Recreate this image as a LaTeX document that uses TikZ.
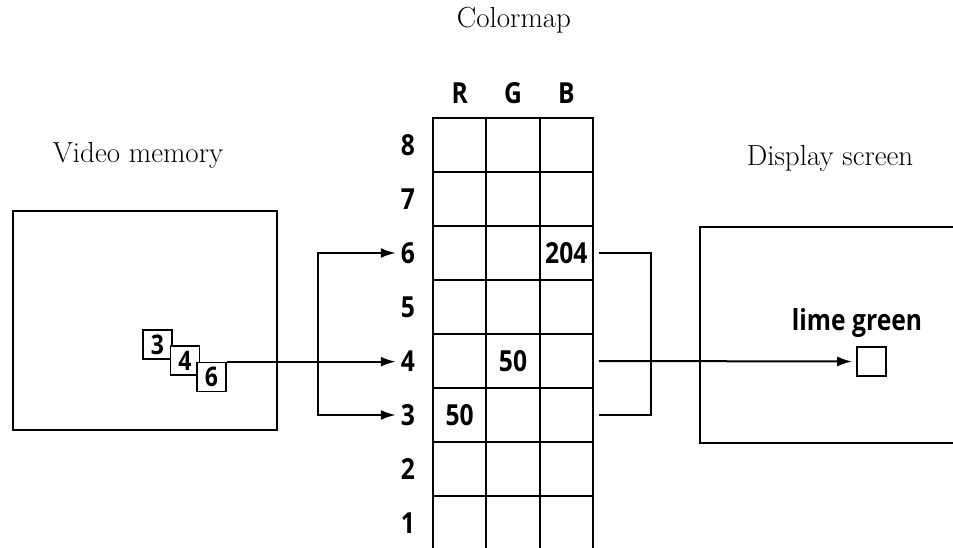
\documentclass[tikz,border=0pt]{standalone}
\usepackage{fontspec}
\usetikzlibrary{arrows.meta,calc}
\newfontfamily\labfont[FakeStretch=0.85]{Open Sans}
\begin{document}
\begin{tikzpicture}[x=1pt,y=-1pt,
  ln/.style={line width=2pt},
  arr/.style={line width=2pt,-{Latex[length=15pt,width=10pt]}},
  ttl/.style={font=\fontsize{29}{32}\selectfont, anchor=base, inner sep=0},
  lab/.style={font=\labfont\bfseries\fontsize{29}{32}\selectfont, inner sep=0},
  cell/.style={draw, line width=2pt, minimum width=53.33pt, minimum height=54pt, inner sep=0},
  smallbox/.style={draw, fill=white, line width=1.7pt, minimum width=29pt, minimum height=29pt, inner sep=0,
     font=\labfont\bfseries\fontsize{27}{30}\selectfont},
  bigbox/.style={draw, line width=2pt, anchor=north west, inner sep=0}]
\useasboundingbox (0,0) rectangle (953,548);

% titles
\node[ttl] (tcm) at (514,28) {Colormap};
\node[ttl] (tvm) at (138,163) {Video memory};
\node[ttl] (tds) at (830,166) {Display screen};

% colormap grid
\node[lab] (hR) at (459.7,93) {R};
\node[lab] (hG) at (513,93) {G};
\node[lab] (hB) at (566.3,93) {B};
\foreach \r in {1,...,8}{
  \node[lab] (l\r) at (408,{145+(8-\r)*54}) {\r};
  \foreach \c/\x in {R/459.7,G/513,B/566.3}
    \node[cell] (c\r\c) at (\x,{145+(8-\r)*54}) {};
}
\node[lab] (v204) at (c6B) {204};
\node[lab] (v50g) at (c4G) {50};
\node[lab] (v50r) at (c3R) {50};

% video memory
\node[bigbox, minimum width=264pt, minimum height=219pt] (vm) at (12,210) {};
\node[smallbox] (m3) at (157.5,344.5) {3};
\node[smallbox] (m4) at (185,360.5) {4};
\node[smallbox] (m6) at (211.5,377) {6};

% display screen
\node[bigbox, minimum width=290pt, minimum height=216pt] (ds) at (699,226) {};
\node[draw, line width=1.7pt, minimum width=29pt, minimum height=29pt, inner sep=0] (px) at (871.5,361.5) {};
\node[lab, anchor=base] (lg) at (857,330) {lime green};

% connectors left
\coordinate (bl) at (318,361);
\draw[arr, shorten >=5pt] (m6.north east) -- (m6.north east -| l4.west);
\draw[arr, shorten >=5pt] (bl) |- (l6.west);
\draw[arr, shorten >=5pt] (bl) |- (l3.west);

% connectors right
\coordinate (br) at (651,361);
\draw[ln] ([xshift=5pt]c6B.east) -| (br) |- ([xshift=5pt]c3B.east);
\draw[arr, shorten >=4pt] ([xshift=5pt]c4B.east) -- (px.west);
\end{tikzpicture}
\end{document}
